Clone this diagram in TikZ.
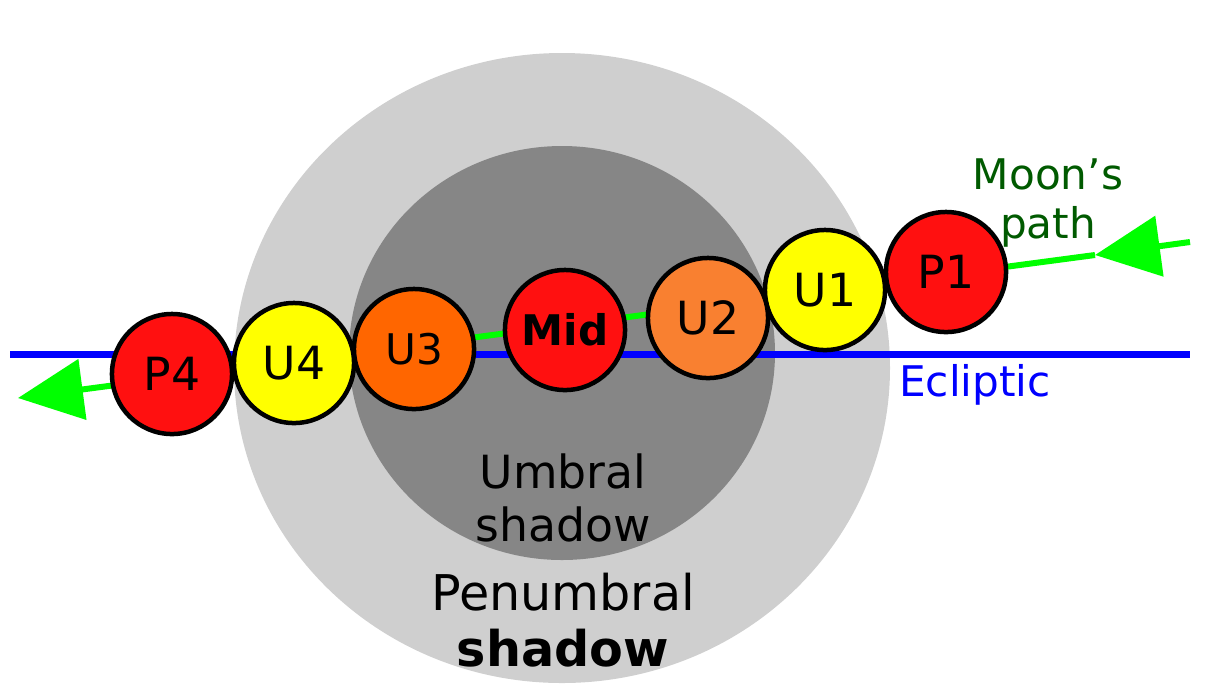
\documentclass[tikz,border=0pt]{standalone}
\usepackage{fontspec}
\setmainfont{DejaVu Sans}
\usetikzlibrary{arrows.meta}
\definecolor{pen}{HTML}{CFCFCF}
\definecolor{umb}{HTML}{868686}
\definecolor{moonred}{HTML}{FF1010}
\definecolor{moonyel}{HTML}{FFFF00}
\definecolor{moonorg}{HTML}{F98030}
\definecolor{moonorg2}{HTML}{FF6600}
\definecolor{pathgreen}{HTML}{00FF00}
\definecolor{labgreen}{HTML}{005A00}
\tikzset{moon/.style={circle,draw=black,line width=0.045cm,minimum size=1.2cm,inner sep=0pt,font=\fontsize{13}{14}\selectfont},
	tip/.style={-{Triangle[length=0.65cm,width=0.6cm]}}}
\begin{document}
\begin{tikzpicture}[x=0.01cm,y=-0.01cm]
\useasboundingbox (0,0) rectangle (1230,693);
%shadows
\fill[pen] (562,368) ellipse [x radius=328,y radius=315];
\fill[umb] (562,353) ellipse [x radius=213,y radius=207];
\node[font=\fontsize{13}{15}\selectfont,align=center] (umbtext) at (563,498) {Umbral\\shadow};
\node[font=\fontsize{14}{16}\selectfont,align=center] (pentext) at (563,620) {Penumbral\\\textbf{shadow}};
%ecliptic
\coordinate (eclW) at (10,354);
\coordinate (eclE) at (1190,354);
\draw[blue,line width=0.07cm] (eclW) -- (eclE);
\node[blue,font=\fontsize{12}{14}\selectfont] (ecltext) at (975,385) {Ecliptic};
%moon's path
\coordinate (pathE) at (1190,242);
\coordinate (pathM) at (1095,255);
\coordinate (pathW) at (18,398);
\draw[pathgreen,line width=0.06cm,tip] (pathE) -- (pathM);
\draw[pathgreen,line width=0.06cm,tip] (pathM) -- (pathW);
\node[labgreen,font=\fontsize{12}{14}\selectfont,align=center] (pathtext) at (1048,203) {Moon's\\path};
%moon positions
\node[moon,fill=moonred] (P1) at (946,272) {P1};
\node[moon,fill=moonyel] (U1) at (825,290) {U1};
\node[moon,fill=moonorg] (U2) at (708,318) {U2};
\node[moon,fill=moonred,font=\fontsize{12}{14}\selectfont\bfseries] (Mid) at (565,330) {Mid};
\node[moon,fill=moonorg2,font=\fontsize{12}{14}\selectfont] (U3) at (414,349) {U3};
\node[moon,fill=moonyel] (U4) at (294,363) {U4};
\node[moon,fill=moonred] (P4) at (172,374) {P4};
\end{tikzpicture}
\end{document}
